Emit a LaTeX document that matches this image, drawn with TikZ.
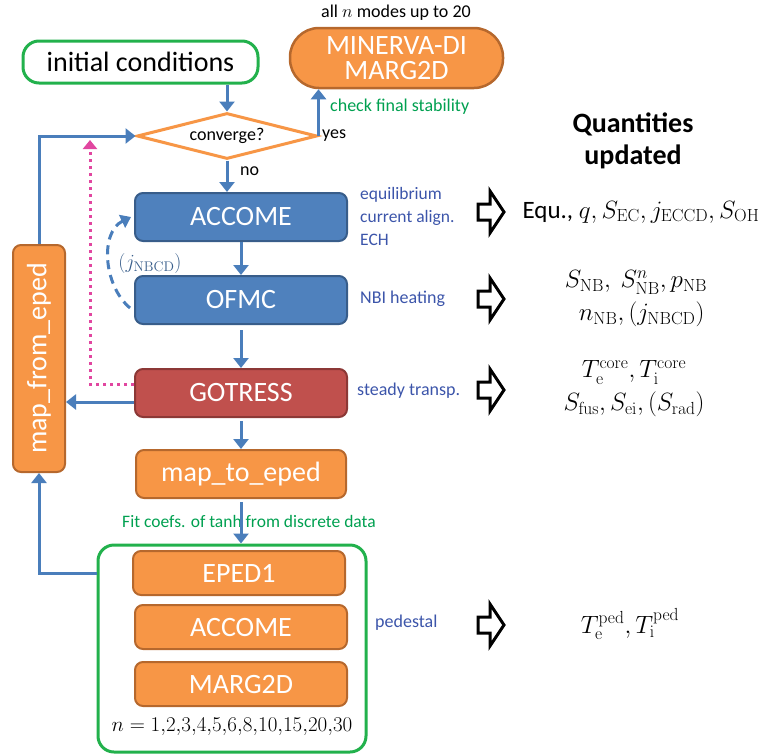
\documentclass[tikz,border=0pt]{standalone}
\usepackage{fix-cm}
\usepackage[no-math]{fontspec}
\setmainfont{Carlito}
\usetikzlibrary{shapes.geometric,arrows.meta}
\definecolor{gB}{RGB}{34,177,76}
\definecolor{oF}{RGB}{247,150,70}
\definecolor{oD}{RGB}{182,104,45}
\definecolor{bF}{RGB}{79,129,189}
\definecolor{bD}{RGB}{56,93,138}
\definecolor{rF}{RGB}{192,80,77}
\definecolor{rD}{RGB}{140,56,54}
\definecolor{aB}{RGB}{74,126,187}
\definecolor{pkc}{RGB}{225,70,160}
\definecolor{lblue}{RGB}{60,85,170}
\definecolor{tgreen}{RGB}{0,160,80}
\tikzset{
  proc/.style={rectangle, rounded corners=8pt, minimum width=212pt, minimum height=48pt,
    inner sep=0pt, text=white, font=\fontsize{28}{30}\selectfont, line width=2pt},
  bluebox/.style={proc, fill=bF, draw=bD},
  redbox/.style={proc, fill=rF, draw=rD},
  orangebox/.style={proc, fill=oF, draw=oD},
  flow/.style={draw=aB, line width=3pt, -{Triangle[length=10pt,width=15pt]}},
  lbl/.style={text=lblue, font=\fontsize{18}{22}\selectfont, anchor=west, inner sep=0pt, align=left},
  small/.style={font=\fontsize{18}{22}\selectfont, inner sep=0pt},
  qty/.style={font=\fontsize{25}{33}\selectfont, inner sep=0pt, align=center},
  harrow/.pic={\draw[line width=3pt, line join=miter, fill=white] (0,-8)--(12,-8)--(12,-21)--(26,0)--(12,21)--(12,8)--(0,8)--cycle;}
}
\begin{document}
\begin{tikzpicture}[x=1pt,y=-1pt]
\useasboundingbox (0,0) rectangle (762,755);

% nodes
\node[draw=gB, line width=3pt, rounded corners=16pt, minimum width=235pt, minimum height=42pt,
  inner sep=0pt, font=\fontsize{28}{30}\selectfont] (init) at (140.5,62) {initial conditions};
\node[fill=oF, draw=oD, line width=2.5pt, rounded corners=29pt, minimum width=213pt, minimum height=60pt,
  inner sep=0pt, text=white, align=center, font=\fontsize{28}{25}\selectfont] (minerva) at (396.5,58) {MINERVA-DI\\MARG2D};
\node[small] (alln) at (396,13) {all $n$ modes up to 20};
\node[diamond, draw=oF, fill=white, line width=3pt, aspect=3.9, minimum width=180pt, minimum height=46pt,
  inner sep=0pt, font=\fontsize{18}{20}\selectfont] (conv) at (227,136) {converge?};
\node[small, anchor=west] (yes) at (322,136) {yes};
\node[small, anchor=west] (no) at (240,171) {no};
\node[small, text=tgreen, anchor=west] (chk) at (330,107) {check final stability};

\node[bluebox] (acc) at (241,217) {ACCOME};
\node[bluebox] (ofmc) at (241,300) {OFMC};
\node[redbox] (got) at (241,393) {GOTRESS};
\node[orangebox, minimum width=210pt] (mte) at (241,474) {map\_to\_eped};
\node[fill=oF, draw=oD, line width=2pt, rounded corners=8pt, minimum width=52pt, minimum height=227pt,
  inner sep=0pt, text=white, font=\fontsize{28}{30}\selectfont] (mfe) at (39,358.5) {\rotatebox{90}{map\_from\_eped}};

\node[draw=gB, line width=3pt, rounded corners=16pt, minimum width=268pt, minimum height=207pt, inner sep=0pt] (pedbox) at (232,648.5) {};
\node[orangebox, minimum height=44pt] (eped) at (239,573) {EPED1};
\node[orangebox, minimum height=44pt] (acc2) at (241,627) {ACCOME};
\node[orangebox, minimum height=44pt] (marg) at (241,684) {MARG2D};
\node[font=\fontsize{21}{24}\selectfont, inner sep=0pt] (nlist) at (232,727) {$n = 1{,}2{,}3{,}4{,}5{,}6{,}8{,}10{,}15{,}20{,}30$};

\node[font=\fontsize{17.5}{20}\selectfont, text=tgreen, inner sep=0pt] (fit) at (249,521) {Fit coefs. of tanh from discrete data};

% blue labels
\node[lbl, font=\fontsize{17.5}{23}\selectfont] (lacc) at (360,216) {equilibrium\\current align.\\ECH};
\node[lbl] (lofmc) at (360,299) {NBI heating};
\node[lbl] (lgot) at (357,391) {steady transp.};
\node[lbl] (lped) at (375,623) {pedestal};

% hollow arrows
\pic at (478,212) {harrow};
\pic at (478,299) {harrow};
\pic at (478,390) {harrow};
\pic at (478,625) {harrow};

% quantities
\node[font=\bfseries\fontsize{28}{32}\selectfont, align=center, inner sep=0pt] (qhead) at (633,141) {Quantities\\updated};
\node[qty] (q1) at (641,212) {Equ., $q, S_{\mathrm{EC}}, j_{\mathrm{ECCD}}, S_{\mathrm{OH}}$};
\node[qty] (q2) at (636,299) {$S_{\mathrm{NB}},\ S^{n}_{\mathrm{NB}}, p_{\mathrm{NB}}$\\\ \ $n_{\mathrm{NB}}, (j_{\mathrm{NBCD}})$};
\node[qty] (q3) at (634,389) {$T_{\mathrm{e}}^{\mathrm{core}}, T_{\mathrm{i}}^{\mathrm{core}}$\\$S_{\mathrm{fus}}, S_{\mathrm{ei}}, (S_{\mathrm{rad}})$};
\node[qty] (q4) at (630,624) {$T_{\mathrm{e}}^{\mathrm{ped}}, T_{\mathrm{i}}^{\mathrm{ped}}$};

% connectors
\draw[flow] (init.south -| conv.north) -- (conv.north);
\draw[flow] (conv.east) -- (conv.east |- minerva.south);
\draw[flow] (conv.south) -- (conv.south |- acc.north);
\draw[flow] (acc.south) -- (ofmc.north);
\draw[flow] ([yshift=-5pt]ofmc.south) -- (got.north);
\draw[flow] ([yshift=-3pt]got.south) -- (mte.north);
\draw[flow] ([yshift=-3pt]mte.south) -- (mte.south |- pedbox.north);
\draw[flow] ([yshift=-9pt]got.west) -- ([yshift=-9pt]got.west -| mfe.east);
\coordinate (pk) at (90,140);
\draw[draw=pkc, line width=3pt, dash pattern=on 3pt off 4pt, -{Triangle[length=9pt,width=14pt]}] ([yshift=9pt]got.west) -| (pk);
\draw[flow] (pedbox.west |- eped.center) -| (mfe.south);
\draw[flow] (mfe.north) |- (conv.west);
\coordinate (dstart) at (130,308);
\coordinate (dend) at (131,217);
\draw[draw=aB, line width=3pt, dash pattern=on 9pt off 6pt, -{Triangle[length=10pt,width=14pt]}]
  (dstart) .. controls (103,285) and (100,232) .. (dend);
\node[text=bD, font=\fontsize{20}{24}\selectfont, inner sep=0pt] (jnb) at (150,263) {$(j_{\mathrm{NBCD}})$};
\end{tikzpicture}
\end{document}
